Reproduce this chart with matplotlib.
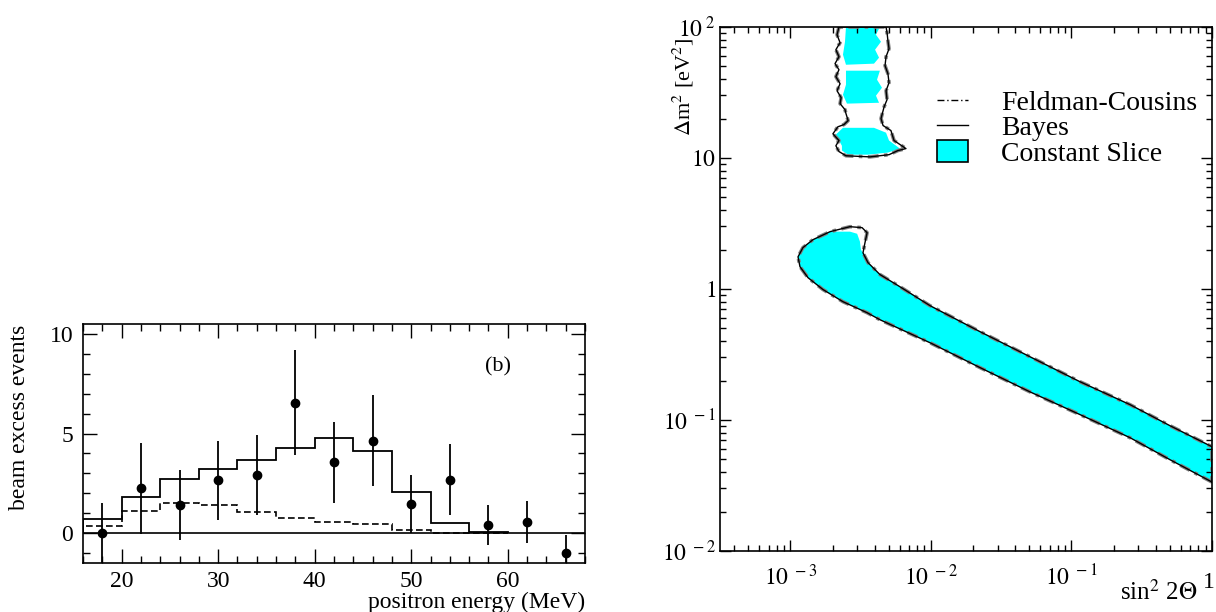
import matplotlib
matplotlib.use('Agg')
import matplotlib.pyplot as plt
from matplotlib.lines import Line2D
from matplotlib.patches import Patch
from matplotlib.ticker import MultipleLocator, LogLocator, NullFormatter

# beam excess vs positron energy (panel b)
energy = [18, 22, 26, 30, 34, 38, 42, 46, 50, 54, 58, 62, 66]
excess = [0.0, 2.25, 1.42, 2.65, 2.92, 6.55, 3.55, 4.65, 1.48, 2.68, 0.42, 0.55, -1.0]
excess_err = [1.5, 2.3, 1.75, 2.0, 2.0, 2.65, 2.03, 2.27, 1.45, 1.77, 1.0, 1.05, 0.92]
bin_edges = [16, 20, 24, 28, 32, 36, 40, 44, 48, 52, 56, 60]
expected_osc = [0.73, 1.82, 2.7, 3.23, 3.65, 4.27, 4.8, 4.12, 2.08, 0.52, 0.05]
expected_bkg = [0.38, 1.12, 1.53, 1.4, 1.05, 0.75, 0.58, 0.45, 0.17, 0.02, 0.0]

# allowed region, lower band (Bayes contour)
band_sin2 = [1.0, 0.502, 0.261, 0.115, 0.0507, 0.0224, 0.00986, 0.00434, 0.00352,
             0.00237, 0.00171, 0.001337, 0.001172, 0.001135, 0.00123, 0.00145,
             0.00192, 0.00266, 0.00324, 0.00352, 0.0034, 0.00329, 0.00357,
             0.00434, 0.00603, 0.00986, 0.0224, 0.0507, 0.115, 0.261, 0.502, 1.0]
band_dm2 = [0.0336, 0.0498, 0.0733, 0.110, 0.164, 0.251, 0.389, 0.583, 0.659,
            0.800, 0.99, 1.22, 1.48, 1.76, 2.07, 2.38,
            2.74, 2.99, 2.94, 2.69, 2.26, 1.89, 1.59,
            1.29, 1.04, 0.746, 0.472, 0.304, 0.196, 0.131, 0.0905, 0.0625]

# constant slice, lower band
slice_band_sin2 = [1.0, 0.502, 0.261, 0.115, 0.0507, 0.0224, 0.00986, 0.00434, 0.00352,
                   0.00237, 0.00171, 0.001337, 0.001172, 0.001135, 0.00123, 0.00145,
                   0.00192, 0.00266, 0.00299, 0.00313, 0.00318, 0.00329, 0.00357,
                   0.00434, 0.00603, 0.00986, 0.0224, 0.0507, 0.115, 0.261, 0.502, 1.0]
slice_band_dm2 = [0.0336, 0.0498, 0.0733, 0.110, 0.164, 0.251, 0.389, 0.583, 0.659,
                  0.800, 0.99, 1.22, 1.48, 1.76, 2.07, 2.38,
                  2.74, 2.74, 2.64, 2.30, 2.00, 1.89, 1.59,
                  1.29, 1.04, 0.746, 0.472, 0.304, 0.196, 0.131, 0.0905, 0.0625]

# upper island (Bayes contour)
island_sin2 = [0.00222, 0.00215, 0.00226, 0.00211, 0.00222, 0.00208, 0.00222, 0.00211,
               0.00226, 0.00215, 0.00230, 0.00226, 0.00245, 0.00249, 0.00258, 0.00241,
               0.00218, 0.00201, 0.00222, 0.00211, 0.00222, 0.00249, 0.00369, 0.00504,
               0.00583, 0.00665, 0.00547, 0.00520, 0.00457, 0.00442, 0.00465, 0.00488,
               0.00480, 0.00504, 0.00495, 0.00472, 0.00480, 0.00504, 0.00495, 0.00488,
               0.00480]
island_dm2 = [100, 87.3, 75.9, 67.1, 59.3, 52.5, 47.2, 41.8,
              36.9, 32.6, 28.9, 26.0, 23.4, 21.8, 19.3, 18.0,
              17.3, 15.3, 13.6, 12.4, 11.2, 10.4, 10.2, 10.6,
              11.4, 11.8, 13.6, 16.2, 17.7, 20.0, 24.6, 27.9,
              32.6, 37.6, 44.0, 50.7, 59.3, 68.3, 78.6, 90.5,
              100]

# constant slice pieces inside the island
slice_top_sin2 = [0.00249, 0.00434, 0.00407, 0.00442, 0.00401, 0.00428, 0.00394, 0.00249, 0.00237, 0.00245]
slice_top_dm2 = [100, 100, 87.3, 77.2, 67.1, 58.3, 52.5, 51.5, 61.5, 77.2]
slice_mid_sin2 = [0.00249, 0.00434, 0.00414, 0.00449, 0.00407, 0.00428, 0.00253, 0.00237, 0.00249]
slice_mid_dm2 = [46.4, 46.4, 39.6, 34.4, 29.9, 26.4, 26.0, 30.4, 36.3]
slice_low_sin2 = [0.00237, 0.00394, 0.00480, 0.00504, 0.00603, 0.00495, 0.00357,
                  0.00258, 0.00233, 0.00233, 0.00222, 0.00211]
slice_low_dm2 = [17.0, 17.0, 15.6, 13.6, 11.8, 11.0, 10.6,
                 10.6, 11.4, 12.4, 13.6, 15.1]

plt.rcParams['font.family'] = ['Liberation Serif', 'DejaVu Serif']
plt.rcParams['mathtext.fontset'] = 'stix'

W, H = 1216, 612
fig = plt.figure(figsize=(W / 100, H / 100), dpi=100)

# ---- left panel
ax1 = fig.add_axes([83 / W, 49 / H, 502 / W, 239 / H])
ax1.stairs(expected_osc, bin_edges, color='k', lw=1.3)
ax1.stairs(expected_bkg, bin_edges, color='k', lw=1.2, ls=(0, (4, 2)))
ax1.axhline(0, color='k', lw=1.2)
ax1.errorbar(energy, excess, yerr=excess_err, fmt='o', color='k', ms=6,
             elinewidth=1.3, capsize=0)
ax1.set_xlim(16, 68)
ax1.set_ylim(-1.5, 10.5)
ax1.xaxis.set_major_locator(MultipleLocator(10))
ax1.xaxis.set_minor_locator(MultipleLocator(2))
ax1.yaxis.set_major_locator(MultipleLocator(5))
ax1.yaxis.set_minor_locator(MultipleLocator(1))
ax1.tick_params(which='both', direction='in', top=True, right=True, labelsize=17, width=1.0)
ax1.tick_params(which='major', length=10)
ax1.tick_params(which='minor', length=5)
ax1.tick_params(axis='x', pad=6)
ax1.tick_params(axis='y', pad=7)
for s in ax1.spines.values():
    s.set_linewidth(1.2)
ax1.text(0.827, 0.82, '(b)', transform=ax1.transAxes, ha='center', va='center', fontsize=16)
fig.text(20 / W, 1 - 417 / H, 'beam excess events', rotation=90, ha='center', va='center', fontsize=17)
fig.text(585 / W, 1 - 602 / H, 'positron energy (MeV)', ha='right', va='center', fontsize=17)

# ---- right panel
cyan = '#00ffff'
ax2 = fig.add_axes([720 / W, 61 / H, 492 / W, 524 / H])
ax2.set_xscale('log')
ax2.set_yscale('log')
for xs, ys in [(slice_band_sin2, slice_band_dm2), (slice_top_sin2, slice_top_dm2),
               (slice_mid_sin2, slice_mid_dm2), (slice_low_sin2, slice_low_dm2)]:
    ax2.fill(xs, ys, color=cyan, lw=0)
for xs, ys in [(band_sin2, band_dm2), (island_sin2, island_dm2)]:
    ax2.plot(xs + xs[:1], ys + ys[:1], color='0.5', lw=2.6, ls=(0, (3, 1.5, 1, 1.5)))
    ax2.plot(xs + xs[:1], ys + ys[:1], color='k', lw=1.0)
ax2.set_xlim(10 ** -3.5, 1)
ax2.set_ylim(1e-2, 1e2)
ax2.set_xticks([1e-3, 1e-2, 1e-1, 1])
ax2.set_xticklabels([r'$10^{\ -3}$', r'$10^{\ -2}$', r'$10^{\ -1}$', ''])
ax2.set_yticks([1e-2, 1e-1, 1, 10, 100])
ax2.set_yticklabels([r'$10^{\ -2}$', r'$10^{\ -1}$', r'$1\ \ \ $', r'$10\ \ \ $', r'$10^{\ 2}$'])
ax2.xaxis.set_minor_locator(LogLocator(base=10, subs=range(2, 10)))
ax2.yaxis.set_minor_locator(LogLocator(base=10, subs=range(2, 10)))
ax2.xaxis.set_minor_formatter(NullFormatter())
ax2.yaxis.set_minor_formatter(NullFormatter())
ax2.tick_params(which='both', direction='in', top=True, right=True, labelsize=17, width=1.0)
ax2.tick_params(which='major', length=8)
ax2.tick_params(which='minor', length=4)
ax2.tick_params(axis='x', pad=10)
ax2.tick_params(axis='y', pad=3)
for s in ax2.spines.values():
    s.set_linewidth(1.2)
# the label at sin^2 2theta = 1 sits on the baseline of the "10" parts
fig.text(1209 / W, 1 - 583 / H, '1', ha='center', va='center', fontsize=17)

handles = [Line2D([], [], color='k', lw=1.0, ls=(0, (5, 2, 1, 2))),
           Line2D([], [], color='k', lw=1.0),
           Patch(facecolor=cyan, edgecolor='k', lw=1.2)]
ax2.legend(handles, ['Feldman-Cousins', 'Bayes', 'Constant Slice'], loc='upper left',
           bbox_to_anchor=(937 / W, 1 - 90 / H), bbox_transform=fig.transFigure,
           frameon=False, fontsize=20, handlelength=1.1, handleheight=0.8,
           handletextpad=1.2, labelspacing=-0.04, borderpad=0, borderaxespad=0)

fig.text(683 / W, 1 - 38 / H, r'$\Delta$m$^2$ [eV$^2$]', rotation=90, ha='center', va='top', fontsize=16)
fig.text(1197 / W, 1 - 592 / H, r'sin$^2$ 2$\Theta$', ha='right', va='center', fontsize=18)

fig.savefig('out.png', dpi=100)
